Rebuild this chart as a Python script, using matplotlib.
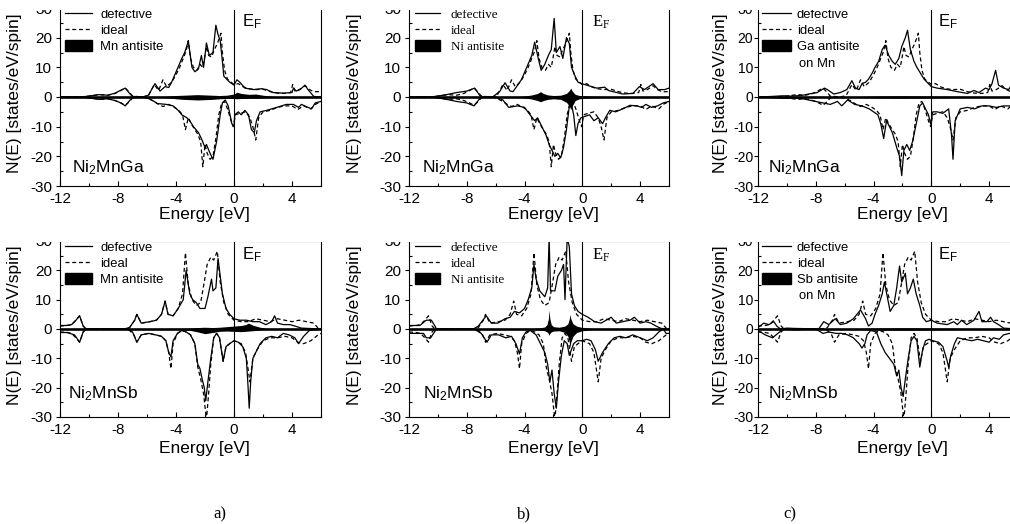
import matplotlib
matplotlib.use('Agg')
import matplotlib.pyplot as plt
from matplotlib.lines import Line2D
from matplotlib.patches import Patch, Rectangle
from matplotlib.ticker import MultipleLocator, FixedLocator

plt.rcParams['font.family'] = ['Liberation Sans', 'DejaVu Sans']
plt.rcParams['mathtext.fontset'] = 'custom'
plt.rcParams['mathtext.rm'] = 'Liberation Sans'
plt.rcParams['axes.unicode_minus'] = False

# ---------------- data (energy [eV], DOS [states/eV/spin]) ----------------
X_TICKS = [-12, -8, -4, 0, 4]
Y_TICKS = [-30, -20, -10, 0, 10, 20, 30]

# Ni2MnGa ideal (shared by top row)
TOP_IDEAL_UP = [(-12,0),(-10.6,0),(-10.0,0.3),(-9.3,0.8),(-8.7,0.6),(-8.2,1.2),(-7.8,2.2),(-7.5,3.0),(-7.2,1.5),(-7.0,0.3),
    (-6.3,0),(-5.9,0.5),(-5.5,4.2),(-5.2,2.2),(-4.9,5.8),(-4.65,3.5),(-4.3,5.0),(-4.0,7.5),(-3.75,10),(-3.5,13),
    (-3.3,15.5),(-3.15,19),(-3.0,13),(-2.8,10),(-2.55,9),(-2.35,11),(-2.15,10),(-2.0,14),(-1.9,17),(-1.75,14),
    (-1.55,13.5),(-1.35,16),(-1.15,18),(-1.0,20),(-0.9,21.5),(-0.8,15),(-0.65,9),(-0.45,6),(-0.2,5),(0.0,4.2),
    (0.3,4.5),(0.6,3.5),(1.0,2.8),(1.5,2.5),(2.0,2.6),(2.5,1.8),(3.0,1.3),(3.5,1.2),(3.9,1.5),(4.05,4.2),
    (4.2,2.0),(4.5,2.5),(4.9,3.8),(5.2,2.5),(5.5,1.8),(6.0,1.8)]
TOP_IDEAL_DN = [(-12,0),(-10.6,0),(-10.0,-0.3),(-9.3,-0.8),(-8.7,-0.6),(-8.2,-1.2),(-7.8,-2.0),(-7.5,-2.8),(-7.2,-1.5),(-7.0,-0.3),
    (-6.3,0),(-5.9,-0.5),(-5.5,-1.5),(-5.2,-2.5),(-4.9,-3.2),(-4.5,-2.5),(-4.1,-3.5),(-3.8,-4.5),(-3.55,-6),(-3.35,-11),
    (-3.15,-7),(-2.95,-9),(-2.7,-11),(-2.5,-12.5),(-2.3,-15),(-2.15,-23.5),(-2.0,-16),(-1.85,-19),(-1.65,-21),(-1.45,-20),
    (-1.25,-14),(-1.05,-6),(-0.85,-2),(-0.65,-1.5),(-0.45,-4),(-0.2,-8),(-0.05,-10),(0.1,-6),(0.4,-5.5),(0.8,-5),
    (1.1,-7),(1.3,-10),(1.5,-14.5),(1.7,-7),(2.0,-5),(2.5,-4.5),(3.0,-3.5),(3.5,-3),(4.0,-3),(4.4,-4.2),
    (4.8,-3),(5.3,-4),(5.6,-2.5),(6.0,-1.5)]

# Ni2MnSb ideal (shared by bottom row)
BOT_IDEAL_UP = [(-12,1.0),(-11.5,1.2),(-11.2,1.5),(-10.9,3),(-10.65,4.5),(-10.4,1),(-10.2,0),(-7.6,0),(-7.2,0.5),(-6.85,3),
    (-6.7,5),(-6.4,2),(-5.8,2.5),(-5.35,3),(-5.0,5),(-4.75,9.5),(-4.55,5),(-4.2,4.5),(-3.85,7),(-3.55,12),
    (-3.35,26),(-3.15,15),(-2.9,10),(-2.6,8),(-2.3,9),(-2.05,16),(-1.85,22),(-1.6,24.5),(-1.4,23.5),(-1.15,26.5),
    (-0.95,16),(-0.7,9),(-0.4,5),(0.0,3),(0.5,2.5),(1.0,2.5),(1.5,3.5),(2.0,3),(2.5,2.5),(3.0,3.5),
    (3.5,3),(4.0,2.5),(4.5,3),(5.0,2.5),(5.5,2),(5.8,0.3),(6.0,0)]
BOT_IDEAL_DN = [(-12,-1.0),(-11.5,-1.2),(-11.2,-1.5),(-10.9,-3),(-10.65,-4.5),(-10.4,-1),(-10.2,0),(-7.6,0),(-7.2,-0.5),(-6.9,-2),
    (-6.7,-4.5),(-6.4,-2),(-5.9,-1.5),(-5.4,-2),(-5.0,-2.5),(-4.7,-4),(-4.5,-8),(-4.35,-13.5),(-4.2,-5),(-3.9,-1.5),
    (-3.6,-0.5),(-3.3,-1),(-3.0,-2),(-2.7,-5),(-2.5,-13),(-2.3,-17),(-2.1,-22),(-1.9,-31),(-1.75,-22),(-1.6,-12),
    (-1.4,-3),(-1.2,-1.5),(-1.0,-3),(-0.75,-11),(-0.55,-6),(-0.3,-5),(0.0,-4),(0.5,-5),(0.8,-8),(1.1,-18),
    (1.3,-10),(1.6,-7),(2.0,-4),(2.5,-3),(3.0,-3),(3.5,-2.5),(4.0,-3),(4.4,-4.5),(4.8,-5),(5.3,-4),
    (5.8,-2),(6.0,-1.5)]

# a) Mn antisite, Ni2MnGa
A_TOP_DEF_UP = [(-12,0),(-10.6,0),(-10.0,0.3),(-9.3,0.8),(-8.7,0.6),(-8.2,1.3),(-7.8,2.3),(-7.5,3.0),(-7.2,1.2),(-7.0,0.2),
    (-6.3,0),(-5.9,0.6),(-5.45,4.5),(-5.1,2.0),(-4.75,3.5),(-4.5,3.2),(-4.3,5),(-3.95,9),(-3.6,13),(-3.4,15),
    (-3.15,18.8),(-2.9,10),(-2.7,8.5),(-2.45,9.5),(-2.25,14),(-2.1,10),(-1.9,18.2),(-1.7,14),(-1.45,15),(-1.25,24.2),
    (-1.1,21),(-0.95,19),(-0.8,12),(-0.7,7),(-0.5,6),(-0.3,5),(0.0,4),(0.2,5.8),(0.4,5),(0.75,3),
    (1.35,2.5),(1.9,2.8),(2.25,2.5),(2.7,1.5),(3.4,1.3),(4.0,1.5),(4.1,3),(4.3,2),(4.55,2.5),(4.9,4),
    (5.1,2.5),(5.5,0.2),(6.0,0)]
A_TOP_DEF_DN = [(-12,0),(-10.6,0),(-10.0,-0.3),(-9.3,-0.8),(-8.7,-0.6),(-8.2,-1.2),(-7.8,-2.0),(-7.5,-3.0),(-7.2,-1.2),(-7.0,-0.2),
    (-6.3,0),(-5.9,-0.5),(-5.5,-1.5),(-5.3,-2.2),(-4.65,-2.5),(-4.2,-3),(-3.85,-4.5),(-3.6,-6),(-3.25,-7),(-3.05,-8),
    (-2.8,-10),(-2.45,-12),(-2.25,-14),(-2.0,-17),(-1.9,-16),(-1.65,-19),(-1.45,-21),(-1.2,-15),(-0.95,-6),(-0.8,-2),
    (-0.6,-1),(-0.4,-3),(-0.15,-9),(0.0,-10),(0.05,-6),(0.3,-5),(0.5,-6),(0.75,-4.5),(1.0,-6),(1.2,-11),
    (1.4,-12),(1.55,-8),(1.8,-5),(2.25,-4.5),(2.95,-3.5),(3.6,-2.5),(4.1,-2.5),(4.45,-3.5),(4.65,-2.5),(5.1,-3.5),
    (5.35,-4),(5.6,-2),(6.0,-1.5)]
A_TOP_ANTI_E = [-6, -5, -4.5, -4, -3.5, -3, -2.5, -2, -1.5, -1, -0.5, 0, 0.2, 0.5, 1, 1.5, 2, 2.5, 3, 4]
A_TOP_ANTI_UP = [0, 0.1, 0.3, 0.5, 0.6, 0.7, 0.8, 0.7, 0.6, 0.5, 0.6, 1.0, 1.6, 1.2, 0.9, 1.0, 0.6, 0.3, 0.1, 0]
A_TOP_ANTI_DN = [0, -0.1, -0.3, -0.6, -0.8, -0.9, -1.0, -0.9, -0.8, -0.6, -0.5, -0.5, -0.6, -0.5, -0.4, -0.4, -0.3, -0.2, -0.1, 0]

# b) Ni antisite, Ni2MnGa
B_TOP_DEF_UP = [(-12,0),(-10.6,0),(-10.0,0.3),(-9.4,0.8),(-8.7,1.5),(-8.0,2.0),(-7.45,3.0),(-7.1,0.5),(-6.85,0),(-6.2,0),
    (-5.7,2),(-5.35,4.8),(-5.0,2),(-4.8,1.8),(-4.55,3.5),(-4.2,6),(-3.85,10),(-3.5,14),(-3.3,18.5),(-3.05,13),
    (-2.85,9),(-2.6,11),(-2.35,14),(-2.15,16),(-1.95,26.5),(-1.8,15),(-1.55,17),(-1.35,13),(-1.1,20),(-0.9,18),
    (-0.75,10),(-0.5,7),(-0.3,5),(-0.05,4.5),(0.3,4),(1.0,3),(1.55,3.3),(1.8,2.2),(2.8,1),(3.5,1.2),
    (3.95,3.5),(4.3,2.5),(4.9,4.5),(5.25,2.5),(5.7,2.5),(6.0,3)]
B_TOP_DEF_DN = [(-12,0),(-10.6,0),(-10.0,-0.3),(-9.4,-0.8),(-8.7,-1.5),(-8.0,-2.0),(-7.5,-3.0),(-7.1,-0.5),(-6.85,0),(-6.0,0),
    (-5.5,-1),(-5.1,-3.5),(-4.5,-3),(-4.0,-3.5),(-3.7,-5.5),(-3.3,-8),(-3.1,-7),(-2.8,-10),(-2.5,-13),(-2.3,-16),
    (-2.1,-18),(-1.9,-20),(-1.7,-19),(-1.5,-20.5),(-1.3,-17),(-1.1,-11),(-0.9,-3),(-0.8,-1.5),(-0.6,-6),(-0.45,-13),
    (-0.3,-9),(-0.1,-7),(0.2,-6.5),(0.5,-6),(0.8,-8),(1.1,-7),(1.4,-9),(1.6,-7),(1.9,-4.5),(2.3,-5),
    (2.8,-4),(3.3,-2.8),(3.8,-3),(4.1,-3.5),(4.4,-2.5),(4.8,-3.5),(5.2,-3),(5.6,-2),(6.0,-1.5)]
B_TOP_ANTI_E = [-5, -4, -3.5, -3.1, -2.9, -2.7, -2.4, -2, -1.5, -1.1, -0.9, -0.8, -0.7, -0.5, -0.2, 0.2, 0.6, 1.5, 2.5]
B_TOP_ANTI_UP = [0, 0.3, 0.7, 1.2, 1.8, 1.2, 0.7, 0.5, 0.6, 1.2, 2.2, 3.0, 2.0, 0.9, 0.5, 0.4, 0.3, 0.2, 0]
B_TOP_ANTI_DN = [0, -0.3, -0.7, -1.2, -1.6, -1.2, -0.8, -0.6, -0.8, -1.8, -3.0, -4.2, -3.0, -1.2, -0.6, -0.4, -0.3, -0.2, 0]

# c) Ga antisite on Mn, Ni2MnGa
C_TOP_DEF_UP = [(-12,0),(-11,0.2),(-10.3,0.4),(-9.7,0.3),(-9.0,0.5),(-8.5,1.0),(-7.9,1.5),(-7.4,3.0),(-7.2,2.5),(-6.75,1),
    (-6.3,1.5),(-5.85,2.5),(-5.5,5.5),(-5.25,3),(-5.0,2.5),(-4.8,4.5),(-4.55,5),(-4.35,6),(-4.1,8),(-3.9,10),
    (-3.65,12),(-3.4,16),(-3.2,17.5),(-2.95,14),(-2.7,12),(-2.5,11),(-2.25,13),(-2.05,17),(-1.8,20),(-1.65,22.5),
    (-1.45,16),(-1.2,12),(-1.0,10),(-0.75,8),(-0.5,6),(-0.2,4.5),(0.0,3.5),(0.4,3),(1.1,2.5),(1.8,1.8),
    (2.5,1.2),(2.95,2.2),(3.3,1.5),(3.75,3),(4.0,2.5),(4.2,4.5),(4.45,9),(4.65,4),(5.0,3),(5.35,2.5),
    (5.55,4),(6.0,3)]
C_TOP_DEF_DN = [(-12,0),(-11,-0.2),(-10.3,-0.4),(-9.7,-0.3),(-9.0,-0.5),(-8.5,-1.0),(-7.5,-2),(-7.0,-2.5),(-6.5,-1.5),(-6.2,-3),
    (-5.8,-1),(-5.3,-2.5),(-4.8,-3),(-4.3,-4),(-3.7,-6),(-3.5,-9),(-3.3,-14),(-3.1,-8),(-2.9,-10),(-2.7,-12),
    (-2.4,-17),(-2.2,-20),(-2.05,-26.5),(-1.9,-18),(-1.7,-16),(-1.5,-18),(-1.3,-15),(-1.0,-8),(-0.8,-3),(-0.6,-2),
    (-0.4,-4),(-0.2,-6),(-0.05,-9),(0.1,-5),(0.4,-5),(0.8,-5.5),(1.2,-4),(1.4,-13),(1.5,-21),(1.65,-8),
    (2.0,-4),(2.5,-3.5),(3.0,-4),(3.5,-3),(4.0,-3),(4.5,-3.5),(5.0,-3),(5.5,-3),(6.0,-2.5)]
C_TOP_ANTI_E = [-6, -4, -2, 0, 2, 4]
C_TOP_ANTI_UP = [0, 0.3, 0.4, 0.3, 0.2, 0]
C_TOP_ANTI_DN = [0, -0.3, -0.4, -0.3, -0.2, 0]

# a) Mn antisite, Ni2MnSb
A_BOT_DEF_UP = [(-12,1.2),(-11.55,1.2),(-11.2,1.5),(-10.9,3),(-10.65,4.5),(-10.4,1),(-10.2,0),(-7.6,0),(-7.2,0.5),(-6.85,3),
    (-6.7,5),(-6.4,2),(-5.8,2.5),(-5.35,3),(-5.0,5),(-4.75,9.5),(-4.55,5),(-4.2,4.5),(-3.85,7),(-3.5,10),
    (-3.3,20),(-3.05,12),(-2.85,10),(-2.6,9),(-2.35,7),(-2.0,7),(-1.8,11),(-1.55,17),(-1.45,13),(-1.25,14),
    (-1.1,24),(-0.95,18),(-0.8,12),(-0.55,7),(-0.3,5),(0.0,3.5),(0.4,3),(0.85,3),(1.3,2.5),(1.75,2.5),
    (2.2,1.5),(2.6,2.5),(2.8,4.5),(3.0,2),(3.4,1.5),(3.85,1.5),(4.2,1),(4.65,0.3),(6.0,0)]
A_BOT_DEF_DN = [(-12,-1.2),(-11.5,-1.2),(-11.0,-2),(-10.65,-4.5),(-10.4,-1),(-10.2,0),(-7.3,0),(-7.0,-1),(-6.7,-4.5),(-6.4,-2),
    (-5.9,-1.5),(-5.4,-2),(-5.0,-2.5),(-4.7,-4),(-4.5,-8),(-4.35,-9.5),(-4.2,-4),(-3.9,-1.5),(-3.6,-0.5),(-3.3,-1),
    (-3.0,-2),(-2.7,-5),(-2.5,-12),(-2.35,-13.5),(-2.2,-17),(-2.05,-20),(-1.95,-24.5),(-1.8,-18),(-1.6,-10),(-1.4,-3),
    (-1.2,-1.5),(-1.0,-3),(-0.75,-11),(-0.55,-6),(-0.3,-5),(0.0,-4),(0.3,-4.5),(0.6,-6),(0.85,-10),(0.95,-18),
    (1.05,-27),(1.15,-18),(1.3,-10),(1.5,-8),(1.8,-5),(2.2,-3),(2.6,-2.5),(3.0,-3),(3.4,-1.5),(3.8,-2),
    (4.2,-3),(4.45,-5),(4.8,-2.5),(5.2,-0.5),(6.0,0)]
A_BOT_ANTI_E = [-4, -3, -2.5, -2, -1.5, -1, -0.5, 0, 0.5, 0.8, 1.0, 1.3, 1.8, 2.5]
A_BOT_ANTI_UP = [0, 0.3, 0.5, 0.6, 0.5, 0.6, 0.8, 1.0, 1.2, 1.5, 2.0, 1.3, 0.6, 0]
A_BOT_ANTI_DN = [0, -0.5, -1.0, -1.6, -1.2, -0.8, -0.7, -0.8, -0.9, -0.8, -0.7, -0.6, -0.3, 0]

# b) Ni antisite, Ni2MnSb
B_BOT_DEF_UP = [(-12,1.2),(-11.25,1.2),(-10.8,3),(-10.45,3),(-10.2,1),(-10.1,0),(-7.55,0),(-7.2,1),(-6.65,4.5),(-6.3,2),
    (-5.85,2),(-5.35,3.5),(-5.0,4),(-4.7,6),(-4.35,5.5),(-4.0,7),(-3.75,10),(-3.5,14),(-3.35,22),(-3.2,17),
    (-2.95,13),(-2.6,11),(-2.4,14),(-2.3,31),(-2.2,13),(-1.9,13),(-1.7,18),(-1.45,20),(-1.3,22),(-1.2,10),
    (-1.05,31),(-0.9,28),(-0.75,12),(-0.55,8),(-0.3,6),(0.0,5),(0.4,4),(0.85,2.5),(1.3,2),(1.65,3),
    (2.0,4),(2.35,2),(2.8,2.5),(3.3,3),(3.6,4),(4.0,2),(4.4,2.5),(4.75,2),(5.1,1),(5.45,0.2),(6.0,0)]
B_BOT_DEF_DN = [(-12,-1.5),(-11.0,-1.5),(-10.8,-3),(-10.5,-3),(-10.1,0),(-7.5,0),(-7.0,-1.5),(-6.6,-4.5),(-6.3,-2),(-5.8,-2),
    (-5.3,-3),(-4.9,-2.5),(-4.6,-5),(-4.35,-8.5),(-4.15,-3),(-3.9,-1),(-3.6,-0.5),(-3.2,-2),(-2.9,-5),(-2.6,-8),
    (-2.4,-12),(-2.25,-18),(-2.1,-14),(-1.95,-22),(-1.8,-27),(-1.65,-18),(-1.45,-9),(-1.25,-4),(-1.05,-5),(-0.9,-9),
    (-0.75,-7),(-0.6,-5),(-0.35,-4),(0.0,-4),(0.3,-3.5),(0.6,-4),(0.9,-7),(1.1,-11),(1.4,-8),(1.8,-5),
    (2.2,-3),(2.6,-2.5),(3.0,-3),(3.5,-2),(4.0,-3),(4.5,-4),(4.9,-3),(5.3,-1),(5.6,0),(5.8,-1.5),(6.0,-1.5)]
B_BOT_ANTI_E = [-4, -3, -2.6, -2.45, -2.35, -2.3, -2.25, -2.15, -2.0, -1.6, -1.2, -1.0, -0.9, -0.85, -0.8, -0.65, -0.4, 0, 0.5, 1.0]
B_BOT_ANTI_UP = [0, 0.3, 0.7, 1.5, 3.5, 6.5, 3.5, 1.5, 0.8, 0.6, 1.0, 1.8, 3.5, 5.0, 3.5, 1.8, 1.0, 0.5, 0.3, 0]
B_BOT_ANTI_DN = [0, -0.3, -0.6, -1.0, -1.5, -2.2, -1.5, -1.0, -0.7, -0.6, -1.2, -2.5, -4.5, -6.5, -4.5, -2.5, -1.2, -0.6, -0.3, 0]

# c) Sb antisite on Mn, Ni2MnSb
C_BOT_DEF_UP = [(-12,0.5),(-11.6,2),(-11.25,1.5),(-10.9,2.5),(-10.7,1),(-10.45,0),(-10.0,0.3),(-9.5,0.2),(-8.5,0.1),(-7.8,0),
    (-7.45,2.5),(-7.1,1.5),(-6.65,3.5),(-6.3,1.5),(-5.85,2),(-5.4,3.5),(-4.9,6.5),(-4.55,3.5),(-4.35,1),(-4.1,2),
    (-3.9,5),(-3.65,8),(-3.4,12),(-3.25,16),(-3.05,11),(-2.85,6),(-2.6,8),(-2.4,14),(-2.2,21.5),(-2.05,16),
    (-1.8,19),(-1.65,12),(-1.45,14),(-1.25,17),(-1.05,12),(-0.8,8),(-0.6,4),(-0.35,2.5),(0.0,3),(0.4,2),
    (1.1,1.5),(1.55,2.5),(1.8,1.5),(2.1,3),(2.45,1.5),(2.95,3),(3.3,6),(3.5,2.5),(3.85,2.5),(4.1,4),
    (4.3,2.5),(4.65,1.5),(5.0,0.3),(6.0,0)]
C_BOT_DEF_DN = [(-12,-0.5),(-11.5,-2),(-11.0,-3),(-10.5,-1),(-10.3,0),(-9.5,-0.3),(-8.5,-0.1),(-8.0,0),(-7.5,-1.5),(-7.1,-1),
    (-6.6,-1.5),(-6.2,-1.5),(-5.8,-2),(-5.4,-3),(-5.0,-5),(-4.8,-6.5),(-4.6,-5),(-4.45,-2),(-4.2,-0.5),(-3.8,-1),
    (-3.5,-5),(-3.2,-8),(-2.9,-10),(-2.6,-12),(-2.4,-16),(-2.25,-14),(-2.1,-20),(-1.95,-23),(-1.8,-17),(-1.6,-10),
    (-1.4,-4),(-1.2,-2.5),(-1.0,-4),(-0.8,-13),(-0.6,-7),(-0.4,-4),(-0.15,-3.5),(0.1,-4),(0.5,-4.5),(0.8,-6),
    (1.1,-11),(1.2,-13),(1.35,-9),(1.6,-5),(1.8,-3),(2.3,-3.5),(2.8,-4),(3.2,-3.5),(3.6,-4),(4.0,-4.5),
    (4.3,-3),(4.7,-3.5),(5.0,-2),(5.4,-1.5),(6.0,-1)]
C_BOT_ANTI_E = [-6, -4, -2, 0, 2, 4]
C_BOT_ANTI_UP = [0, 0.3, 0.4, 0.3, 0.2, 0]
C_BOT_ANTI_DN = [0, -0.3, -0.4, -0.3, -0.2, 0]

LEGEND_LABELS = ['defective', 'ideal']
ANTISITE_LABELS = ['Mn antisite', 'Ni antisite', 'Ga antisite', 'Mn antisite', 'Ni antisite', 'Sb antisite']
COMPOUNDS = ['Ni$\\mathregular{_2}$MnGa'] * 3 + ['Ni$\\mathregular{_2}$MnSb'] * 3
PANEL_LETTERS = ['a)', 'b)', 'c)']

# ---------------- layout ----------------
W, H = 1010, 524
fig = plt.figure(figsize=(W / 100, H / 100), dpi=100)

COL_X = [60, 409, 758]
COL_W = [261, 260, 260]
ROW_TOP = [8, 241]
ROW_H = [178, 176]
YLAB_X = [15, 355, 721]
XLAB_X = [204, 553, 902]
XLAB_Y = [214, 448]
EF_X = [0.697, 0.704, 0.692]
COMP_X = [[0.046, 0.050, 0.038], [0.031, 0.054, 0.038]]
COMP_Y = [0.079, 0.105]
HANDLE_X = [0.019, 0.023, 0.015]
HANDLE_LEN = [2.1, 1.95, 2.2]
HANDLE_PAD = [0.62, 0.78, 0.47]
YPAD = [2.5, 2.5, 0.4]
YTICK_FS = [11, 11, 10]

panels = [
    (A_TOP_DEF_UP, A_TOP_DEF_DN, TOP_IDEAL_UP, TOP_IDEAL_DN, A_TOP_ANTI_E, A_TOP_ANTI_UP, A_TOP_ANTI_DN),
    (B_TOP_DEF_UP, B_TOP_DEF_DN, TOP_IDEAL_UP, TOP_IDEAL_DN, B_TOP_ANTI_E, B_TOP_ANTI_UP, B_TOP_ANTI_DN),
    (C_TOP_DEF_UP, C_TOP_DEF_DN, TOP_IDEAL_UP, TOP_IDEAL_DN, C_TOP_ANTI_E, C_TOP_ANTI_UP, C_TOP_ANTI_DN),
    (A_BOT_DEF_UP, A_BOT_DEF_DN, BOT_IDEAL_UP, BOT_IDEAL_DN, A_BOT_ANTI_E, A_BOT_ANTI_UP, A_BOT_ANTI_DN),
    (B_BOT_DEF_UP, B_BOT_DEF_DN, BOT_IDEAL_UP, BOT_IDEAL_DN, B_BOT_ANTI_E, B_BOT_ANTI_UP, B_BOT_ANTI_DN),
    (C_BOT_DEF_UP, C_BOT_DEF_DN, BOT_IDEAL_UP, BOT_IDEAL_DN, C_BOT_ANTI_E, C_BOT_ANTI_UP, C_BOT_ANTI_DN),
]

DASH = (0, (3.2, 2.2))
LW = 0.9

for i, (dup, ddn, iup, idn, ae, aup, adn) in enumerate(panels):
    row, col = divmod(i, 3)
    serif = (col == 1)
    x0, w = COL_X[col], COL_W[col]
    yt, h = ROW_TOP[row], ROW_H[row]
    ax = fig.add_axes([x0 / W, 1 - (yt + h) / H, w / W, h / H])
    ax.set_xlim(-12, 6)
    ax.set_ylim(-30, 30)

    ax.fill_between(ae, 0, aup, color='black', lw=0, zorder=2)
    ax.fill_between(ae, 0, adn, color='black', lw=0, zorder=2)
    for curve in (iup, idn):
        e, n = zip(*curve)
        ax.plot(e, n, color='black', lw=LW, ls=DASH, zorder=3)
    for curve in (dup, ddn):
        e, n = zip(*curve)
        ax.plot(e, n, color='black', lw=LW, ls='-', zorder=4)
    ax.axhline(0, color='black', lw=1.9, zorder=5)
    ax.axvline(0, color='black', lw=0.8, zorder=5)

    for sp in ax.spines.values():
        sp.set_linewidth(0.8)
    ax.xaxis.set_major_locator(FixedLocator(X_TICKS))
    ax.xaxis.set_minor_locator(MultipleLocator(2))
    ax.yaxis.set_major_locator(FixedLocator(Y_TICKS))
    ax.yaxis.set_minor_locator(MultipleLocator(5))
    ax.tick_params(axis='x', which='both', direction='in', labelsize=11, pad=4, width=0.8)
    ax.tick_params(axis='x', which='major', length=3.5)
    ax.tick_params(axis='x', which='minor', length=2.5)
    ax.tick_params(axis='y', which='major', direction='out', length=3, width=0.8,
                   labelsize=YTICK_FS[col], pad=YPAD[col])
    ax.tick_params(axis='y', which='minor', direction='in', length=2.5, width=0.8)
    ax.tick_params(top=False, right=False, which='both')

    # axis labels
    ax.set_xlabel('Energy [eV]', fontsize=12.5)
    ax.xaxis.set_label_coords((XLAB_X[col] - x0) / w, 1 - (XLAB_Y[row] - yt) / h, transform=ax.transAxes)
    ax.xaxis.label.set_verticalalignment('center')
    ax.set_ylabel('N(E) [states/eV/spin]', fontsize=12.5)
    ax.yaxis.set_label_coords((YLAB_X[col] - x0) / w, 0.52)
    ax.yaxis.label.set_verticalalignment('center')

    # Fermi level label
    ax.text(EF_X[col], 0.895, '$\\mathregular{E_F}$', transform=ax.transAxes,
            fontsize=12, ha='left', va='baseline',
            family=['Liberation Serif'] if serif else ['Liberation Sans'])
    # compound
    ax.text(COMP_X[row][col], COMP_Y[row], COMPOUNDS[i], transform=ax.transAxes,
            fontsize=12.5, ha='left', va='baseline')

    # legend
    handles = [Line2D([], [], color='black', lw=LW, ls='-'),
               Line2D([], [], color='black', lw=LW, ls=DASH),
               Patch(facecolor='black', edgecolor='black')]
    labels = LEGEND_LABELS + [ANTISITE_LABELS[i]]
    prop = {'family': 'Liberation Serif' if serif else 'Liberation Sans', 'size': 9.4}
    leg = ax.legend(handles, labels, loc='upper left', bbox_to_anchor=(HANDLE_X[col], 0.998),
                    frameon=False, prop=prop, handlelength=HANDLE_LEN[col], handleheight=0.95,
                    handletextpad=HANDLE_PAD[col], labelspacing=0.2, borderpad=0, borderaxespad=0)
    leg.set_zorder(6)
    if col == 2:
        ax.text(0.158, 0.685, 'on Mn', transform=ax.transAxes, fontsize=9.4,
                ha='left', va='center')

# panel letters
for col, letter in enumerate(PANEL_LETTERS):
    fig.text([220, 524, 790][col] / W, 1 - 514 / H, letter, fontsize=12,
             family=['Liberation Serif'], ha='center', va='center')

# the source figure is cropped at the top of each row
fig.add_artist(Rectangle((0, 1 - 10 / H), 1, 10 / H, transform=fig.transFigure,
                         facecolor='white', edgecolor='none', zorder=50))
fig.add_artist(Rectangle((0, 1 - 242 / H), 1, 13 / H, transform=fig.transFigure,
                         facecolor='white', edgecolor='none', zorder=50))

fig.savefig('out.png', dpi=100)
